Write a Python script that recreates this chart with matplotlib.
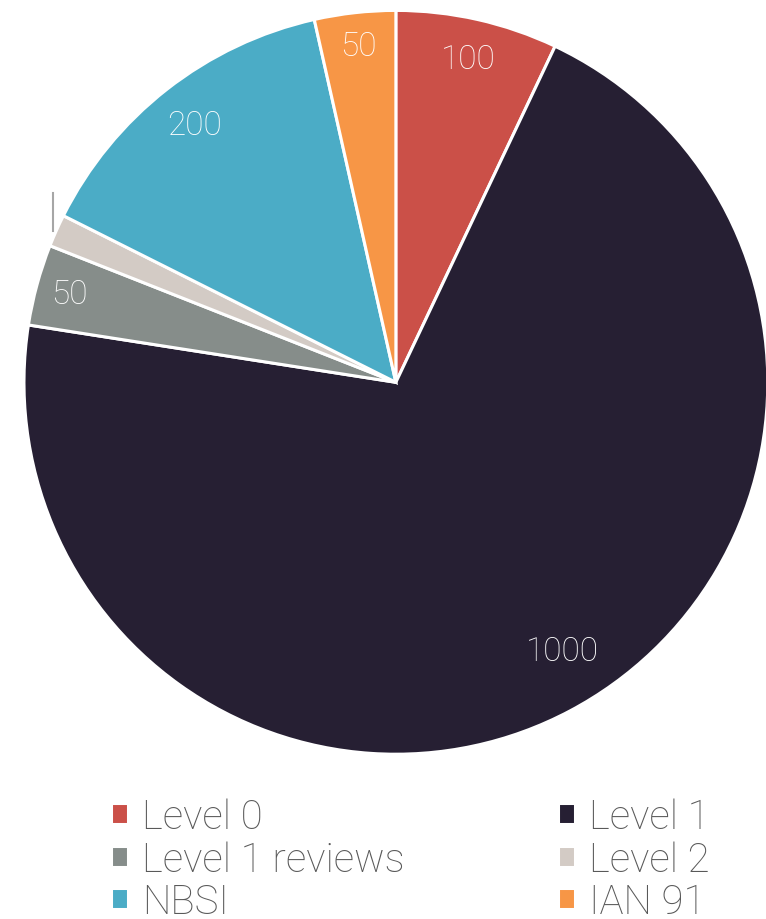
import matplotlib
matplotlib.use("Agg")
import matplotlib.pyplot as plt
import numpy as np

categories = ["Level 0", "Level 1", "Level 1 reviews", "Level 2", "NBSI", "IAN 91"]
values = [100, 1000, 50, 20, 200, 50]
labels = ["100", "1000", "50", "", "200", "50"]
colors = ["#CB5048", "#261F33", "#868D8A", "#D3CBC5", "#4BACC6", "#F79646"]
label_dist = [0.89, 0.85, 0.91, 1.0, 0.88, 0.91]
label_shift = [0, 4, 0, 0, 0, 0]

plt.rcParams['font.family'] = ['Roboto', 'DejaVu Sans']

fig = plt.figure(figsize=(7.66, 9.2), dpi=100)
ax = fig.add_axes([0.0313, 0.179, 0.971, 0.8087])
wedges, texts = ax.pie(values, colors=colors, startangle=90, counterclock=False,
                       labels=labels, labeldistance=0.88,
                       wedgeprops=dict(edgecolor="white", linewidth=2.2),
                       textprops=dict(color="white", fontsize=24, fontweight="light"))
for w, t, d, s in zip(wedges, texts, label_dist, label_shift):
    a = np.deg2rad((w.theta1 + w.theta2) / 2 + s)
    t.set_position((d * np.cos(a), d * np.sin(a)))
    t.set_horizontalalignment("center")
    t.set_verticalalignment("center")
ax.set_aspect("equal")
ax.set_xlim(-1, 1)
ax.set_ylim(-1, 1)

# leader mark for the small Level 2 slice
w = wedges[3]
mid = np.deg2rad((w.theta1 + w.theta2) / 2)
xm, ym = 1.0 * np.cos(mid), 1.0 * np.sin(mid)
ax.plot([xm - 0.01, xm - 0.01], [ym, ym + 0.1], color="#A6A6A6", lw=1.5, clip_on=False)

order = [0, 2, 4, 1, 3, 5]
leg = fig.legend([wedges[i] for i in order], [categories[i] for i in order],
                 loc="upper left", bbox_to_anchor=(0.145, 0.132),
                 ncol=2, frameon=False, fontsize=29, handlelength=0.42, handleheight=0.42,
                 handletextpad=0.35, columnspacing=3.8, labelspacing=0.1,
                 borderpad=0, borderaxespad=0)
for t in leg.get_texts():
    t.set_color("#595959")
    t.set_fontweight("light")

fig.savefig("out.png", dpi=100)
